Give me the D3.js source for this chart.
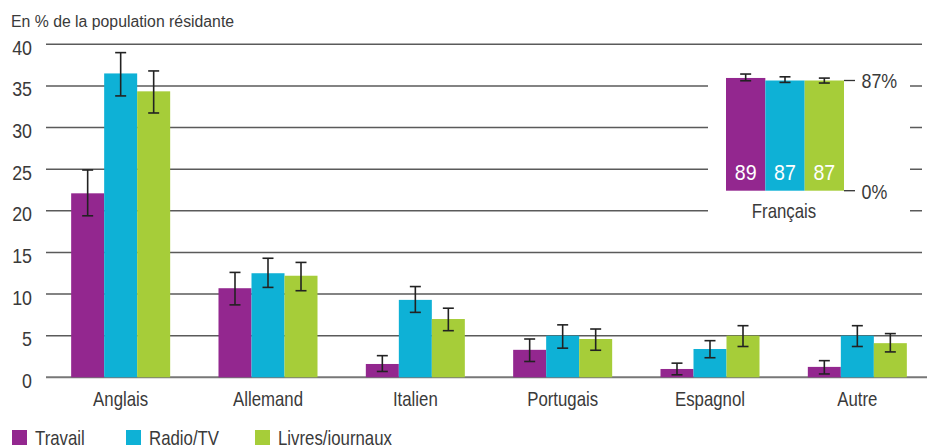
<!DOCTYPE html>
<html>
<head>
<meta charset="utf-8">
<script src="https://cdn.jsdelivr.net/npm/d3@7"></script>
<style>
  body { margin: 0; background: #fff; }
  svg { display: block; }
  text { fill: #3a3a3a; font-family: "Liberation Sans", Arial, sans-serif; }
</style>
</head>
<body>
<main></main>
<script>
const width = 927;
const height = 445;

// data
const categories = ['Anglais', 'Allemand', 'Italien', 'Portugais', 'Espagnol', 'Autre'];
const series = ['Travail', 'Radio/TV', 'Livres/journaux'];
const colors = ['#93278f', '#0eb1d6', '#a6cd39'];

const travail = [22.1, 10.7, 1.6, 3.3, 1.0, 1.25];
const radio = [36.5, 12.5, 9.3, 5.0, 3.4, 5.0];
const livres = [34.35, 12.2, 7.0, 4.6, 5.0, 4.1];

const travailLo = [19.4, 8.7, 0.7, 1.9, 0.3, 0.4];
const travailHi = [24.9, 12.6, 2.6, 4.6, 1.7, 2.0];
const radioLo = [33.8, 10.8, 7.8, 3.5, 2.35, 3.7];
const radioHi = [39.0, 14.3, 10.9, 6.3, 4.4, 6.2];
const livresLo = [31.75, 10.4, 5.6, 3.25, 3.7, 3.05];
const livresHi = [36.8, 13.8, 8.3, 5.8, 6.2, 5.25];

const yTicks = [0, 5, 10, 15, 20, 25, 30, 35, 40];

// inset: Français
const francais = [89, 87, 87];
const francaisLo = [86.8, 85.5, 85.0];
const francaisHi = [92.1, 89.9, 88.9];
const insetTicks = [0, 87];

const values = [travail, radio, livres];
const lows = [travailLo, radioLo, livresLo];
const highs = [travailHi, radioHi, livresHi];

// condensed look: squeeze Liberation Sans horizontally
const squeeze = (x, y, k) => 'translate(' + x + ',' + y + ') scale(' + k + ',1)';

const svg = d3.select('main')
    .append('svg')
    .attr('width', width)
    .attr('height', height);

const y = d3.scaleLinear().domain([0, 40]).range([377.3, 44.3]);
const x = d3.scaleBand().domain(categories).range([47, 931]).paddingInner(0.328).paddingOuter(0.164);
const xs = d3.scaleBand().domain(series).range([0, x.bandwidth()]);

// title
svg.append('text')
    .attr('x', 11).attr('y', 27)
    .style('font-size', '15.8px')
    .text('En % de la population résidante');

// gridlines
svg.append('g')
    .selectAll('line')
    .data(yTicks.filter(d => d > 0))
    .enter()
    .append('line')
    .attr('x1', 46).attr('x2', 922)
    .attr('y1', d => y(d)).attr('y2', d => y(d))
    .attr('stroke', '#5a5a5a')
    .attr('stroke-width', 1.5);

svg.append('line')
    .attr('x1', 46).attr('x2', 927)
    .attr('y1', y(0)).attr('y2', y(0))
    .attr('stroke', '#777')
    .attr('stroke-width', 2);

// y labels
svg.append('g')
    .selectAll('text')
    .data(yTicks)
    .enter()
    .append('text')
    .attr('transform', d => squeeze(32, y(d) + 10.5, 0.87))
    .attr('text-anchor', 'end')
    .style('font-size', '20.5px')
    .text(d => d);

// bars
const groups = svg.append('g')
    .selectAll('g')
    .data(categories)
    .enter()
    .append('g')
    .attr('transform', d => 'translate(' + x(d) + ',0)');

series.forEach((s, si) => {
    groups.append('rect')
        .attr('x', xs(s))
        .attr('width', xs.bandwidth())
        .attr('y', (d, i) => y(values[si][i]))
        .attr('height', (d, i) => y(0) - y(values[si][i]))
        .attr('fill', colors[si]);
});

// error bars
series.forEach((s, si) => {
    const cx = xs(s) + xs.bandwidth() / 2;
    const eb = groups.append('g').attr('stroke', '#222').attr('stroke-width', 1.6);
    eb.append('line')
        .attr('x1', cx).attr('x2', cx)
        .attr('y1', (d, i) => y(lows[si][i]))
        .attr('y2', (d, i) => y(highs[si][i]));
    eb.append('line')
        .attr('x1', cx - 5.5).attr('x2', cx + 5.5)
        .attr('y1', (d, i) => y(lows[si][i]))
        .attr('y2', (d, i) => y(lows[si][i]));
    eb.append('line')
        .attr('x1', cx - 5.5).attr('x2', cx + 5.5)
        .attr('y1', (d, i) => y(highs[si][i]))
        .attr('y2', (d, i) => y(highs[si][i]));
});

// category labels
svg.append('g')
    .selectAll('text')
    .data(categories)
    .enter()
    .append('text')
    .attr('transform', d => squeeze(x(d) + x.bandwidth() / 2, 405.5, 0.82))
    .attr('text-anchor', 'middle')
    .style('font-size', '20.5px')
    .text(d => d);

// inset for Français
svg.append('rect')
    .attr('x', 708).attr('y', 54)
    .attr('width', 202).attr('height', 178)
    .attr('fill', '#fff');

const yi = d3.scaleLinear().domain([0, 87]).range([190.7, 80.5]);
const xi = d3.scaleBand().domain(series).range([726, 844]);

const inset = svg.append('g');

inset.selectAll('rect')
    .data(series)
    .enter()
    .append('rect')
    .attr('x', d => xi(d))
    .attr('width', xi.bandwidth())
    .attr('y', (d, i) => yi(francais[i]))
    .attr('height', (d, i) => yi(0) - yi(francais[i]))
    .attr('fill', (d, i) => colors[i]);

series.forEach((s, si) => {
    const cx = xi(s) + xi.bandwidth() / 2;
    const eb = inset.append('g').attr('stroke', '#222').attr('stroke-width', 1.6);
    eb.append('line').attr('x1', cx).attr('x2', cx)
        .attr('y1', yi(francaisLo[si])).attr('y2', yi(francaisHi[si]));
    [francaisLo[si], francaisHi[si]].forEach(v => {
        eb.append('line').attr('x1', cx - 5.5).attr('x2', cx + 5.5)
            .attr('y1', yi(v)).attr('y2', yi(v));
    });
});

inset.append('g')
    .selectAll('text')
    .data(series)
    .enter()
    .append('text')
    .attr('transform', d => squeeze(xi(d) + xi.bandwidth() / 2, 179.5, 0.87))
    .attr('text-anchor', 'middle')
    .style('font-size', '22.5px')
    .style('fill', '#fff')
    .text((d, i) => d3.format('d')(francais[i]));

inset.selectAll('line.tick')
    .data(insetTicks)
    .enter()
    .append('line')
    .attr('class', 'tick')
    .attr('x1', 844).attr('x2', 855)
    .attr('y1', d => yi(d)).attr('y2', d => yi(d))
    .attr('stroke', '#333')
    .attr('stroke-width', 1.3);

inset.append('g')
    .selectAll('text')
    .data(insetTicks)
    .enter()
    .append('text')
    .attr('transform', d => squeeze(861.5, yi(d) + 7.8, 0.87))
    .style('font-size', '20.5px')
    .text(d => d + '%');

inset.append('text')
    .attr('transform', squeeze(784, 218, 0.82))
    .attr('text-anchor', 'middle')
    .style('font-size', '20.5px')
    .text('Français');

// legend
const legendX = [12, 126, 255];
const legend = svg.append('g')
    .selectAll('g')
    .data(series)
    .enter()
    .append('g')
    .attr('transform', (d, i) => 'translate(' + legendX[i] + ',430)');

legend.append('rect')
    .attr('width', 15).attr('height', 15)
    .attr('fill', (d, i) => colors[i]);

legend.append('text')
    .attr('transform', squeeze(23, 14.5, 0.82))
    .style('font-size', '20.5px')
    .text(d => d);
</script>
</body>
</html>
